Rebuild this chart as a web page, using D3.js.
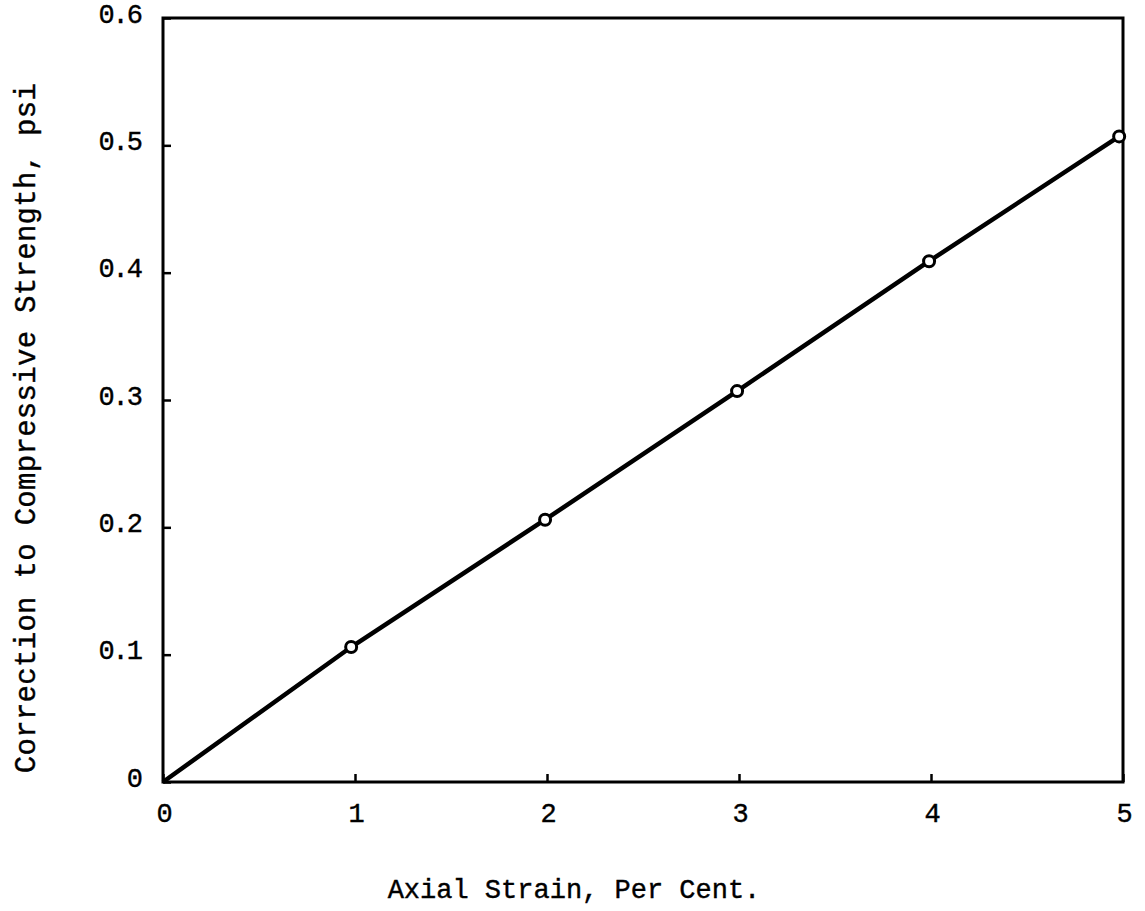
<!DOCTYPE html>
<html>
<head>
<meta charset="utf-8">
<script src="https://cdn.jsdelivr.net/npm/d3@7"></script>
<style>
  body { margin: 0; background: #fff; }
  text { font-family: "Liberation Mono", "DejaVu Sans Mono", monospace; fill: #000; stroke: #000; stroke-width: 0.4px; }
</style>
</head>
<body>
<script>
// data
let strain = [0, 0.98, 1.99, 2.99, 3.99, 4.98];
let correction = [0, 0.106, 0.206, 0.307, 0.409, 0.507];
let pointIdx = [1, 2, 3, 4, 5]; // circles drawn at these (not at origin)
let xTicks = [0, 1, 2, 3, 4, 5];
let yTicks = [0, 0.1, 0.2, 0.3, 0.4, 0.5, 0.6];
let xTitle = "Axial Strain, Per Cent.";
let yTitle = "Correction to Compressive Strength, psi";

let W = 1145, H = 911;
let margins = { left: 163, top: 18, right: 22, bottom: 129 };
let width = W - margins.left - margins.right;
let height = H - margins.top - margins.bottom;

let svg = d3.select("body").append("svg")
  .attr("width", W)
  .attr("height", H);

let g = svg.append("g")
  .attr("transform", `translate(${margins.left}, ${margins.top})`);

let xScale = d3.scaleLinear().domain([0, 5]).range([0, width]);
let yScale = d3.scaleLinear().domain([0, 0.6]).range([height, 0]);

// frame
g.append("rect")
  .attr("width", width).attr("height", height)
  .attr("fill", "none").attr("stroke", "#000").attr("stroke-width", 3);

// axes with inward ticks
let xAxis = d3.axisBottom(xScale).tickValues(xTicks)
  .tickSize(-8).tickPadding(16).tickFormat(d => "" + d);
let xAxisG = g.append("g").attr("transform", `translate(0, ${height})`).call(xAxis);

let yAxis = d3.axisLeft(yScale).tickValues(yTicks)
  .tickSize(-8).tickPadding(22).tickFormat(d => d === 0 ? "0" : d3.format(".1f")(d));
let yAxisG = g.append("g").call(yAxis);

[xAxisG, yAxisG].forEach(a => {
  a.select(".domain").remove();
  a.selectAll(".tick line").attr("stroke", "#000").attr("stroke-width", 2.5);
  a.selectAll(".tick text")
    .style("font-size", "27px")
    .attr("letter-spacing", -2);
});
xAxisG.selectAll(".tick text").attr("dy", "0.9em");
yAxisG.selectAll(".tick text").attr("dy", "0.15em");

// line
let line = d3.line().x((d, i) => xScale(strain[i])).y((d, i) => yScale(correction[i]));
g.append("path")
  .datum(correction)
  .attr("d", line)
  .attr("fill", "none")
  .attr("stroke", "#000")
  .attr("stroke-width", 4.5);

// points
g.selectAll("circle.pt")
  .data(pointIdx)
  .join("circle")
  .classed("pt", true)
  .attr("cx", i => xScale(strain[i]))
  .attr("cy", i => yScale(correction[i]))
  .attr("r", 5.5)
  .attr("fill", "#fff")
  .attr("stroke", "#000")
  .attr("stroke-width", 3);

// x label
svg.append("text")
  .attr("x", 574).attr("y", 898)
  .attr("text-anchor", "middle")
  .style("font-size", "27px")
  .text(xTitle);

// y label
svg.append("text")
  .attr("transform", `translate(35, 428) rotate(-90)`)
  .attr("text-anchor", "middle")
  .style("font-size", "29px")
  .attr("letter-spacing", 0.3)
  .text(yTitle);
</script>
</body>
</html>
